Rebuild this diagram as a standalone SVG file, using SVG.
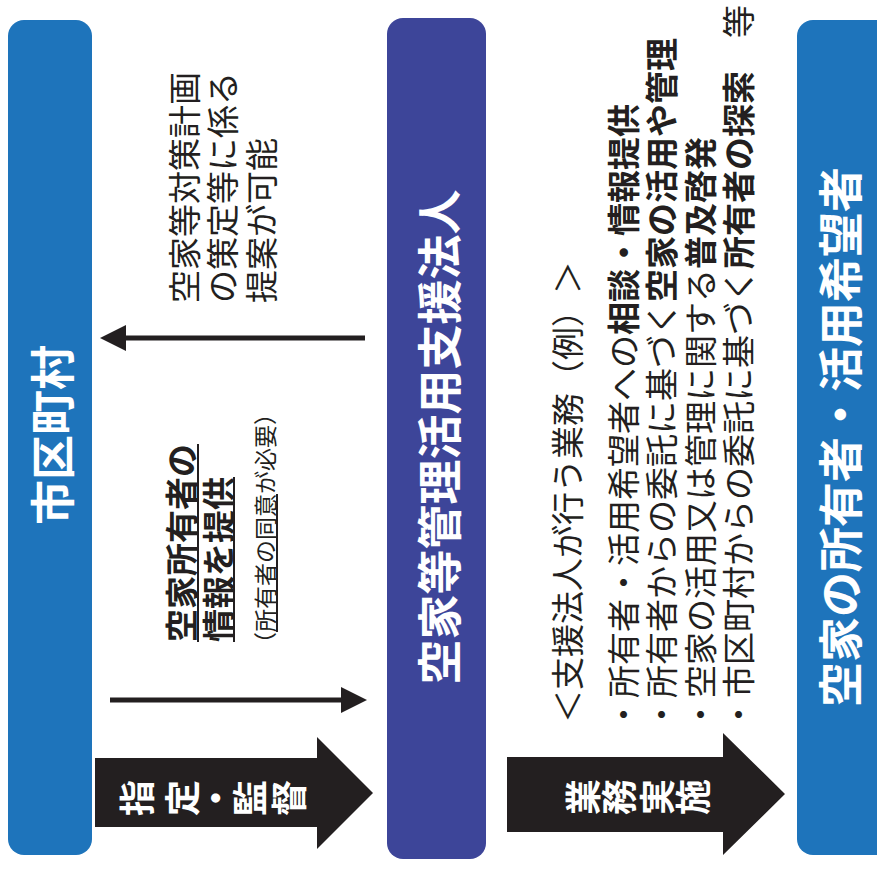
<svg xmlns="http://www.w3.org/2000/svg" width="877" height="872" viewBox="0 0 877 872">
<defs>
<style>
text{font-family:"Noto Sans CJK JP","Noto Sans",sans-serif;}
.box-blue{fill:#1e74bb;}
.box-navy{fill:#3d4599;}
.lbl{fill:#fff;font-weight:700;font-size:45px;text-anchor:middle;dominant-baseline:central;}
.arr{fill:#231f20;}
.atx{fill:#fff;font-weight:700;font-size:36px;text-anchor:middle;dominant-baseline:central;}
.t{fill:#231f20;font-size:33px;dominant-baseline:central;}
.tb{font-weight:700;}
.sm{fill:#231f20;font-size:23px;dominant-baseline:central;}
.ul{stroke:#231f20;stroke-width:2;}
.conn{stroke:#231f20;stroke-width:5;fill:none;}
</style>
</defs>
<rect width="877" height="872" fill="#fff"/>

<g id="node-municipality">
<rect class="box-blue" x="8" y="20" width="84" height="835" rx="16"/>
<text class="lbl" transform="translate(50,435) rotate(-90)">市区町村</text>
</g>

<g id="node-support-corp">
<rect class="box-navy" x="387" y="18" width="99" height="841" rx="16"/>
<text class="lbl" transform="translate(437,437) rotate(-90)">空家等管理活用支援法人</text>
</g>

<g id="node-owners">
<rect class="box-blue" x="797" y="20" width="100" height="835" rx="16"/>
<text class="lbl" transform="translate(838,437) rotate(-90)">空家の所有者・活用希望者</text>
</g>

<g id="connectors">
<line class="conn" x1="365" y1="338" x2="120" y2="338"/>
<polygon class="arr" points="100,338 126,325 126,351"/>
<line class="conn" x1="110" y1="700" x2="346" y2="700"/>
<polygon class="arr" points="367,700 341,687 341,713"/>
</g>

<g id="arrow-designate">
<polygon class="arr" points="95,758 317,758 317,737 373,793 317,849 317,827 95,827"/>
<text class="atx" transform="translate(135,798) rotate(-90)">指</text>
<text class="atx" transform="translate(180,798) rotate(-90)">定</text>
<text class="atx" transform="translate(214,798) rotate(-90)">・</text>
<text class="atx" transform="translate(248,798) rotate(-90)">監</text>
<text class="atx" transform="translate(287,798) rotate(-90)">督</text>
</g>

<g id="arrow-business">
<polygon class="arr" points="507,757 723,757 723,733 785,794 723,855 723,832 507,832"/>
<text class="atx" transform="translate(581,797) rotate(-90)">業</text>
<text class="atx" transform="translate(617,797) rotate(-90)">務</text>
<text class="atx" transform="translate(655,797) rotate(-90)">実</text>
<text class="atx" transform="translate(691,797) rotate(-90)">施</text>
</g>

<g id="label-proposal">
<text class="t" transform="translate(183,303) rotate(-90)">空家等対策計画</text>
<text class="t" transform="translate(221,303) rotate(-90)">の策定等に係る</text>
<text class="t" transform="translate(260,303) rotate(-90)">提案が可能</text>
</g>

<g id="label-info">
<text class="t tb" transform="translate(180,642) rotate(-90)">空家所有者の</text>
<line class="ul" x1="198" y1="642" x2="198" y2="444"/>
<text class="t tb" transform="translate(217,642) rotate(-90)">情報を提供</text>
<line class="ul" x1="234" y1="642" x2="234" y2="477"/>
<text class="sm" transform="translate(264,655) rotate(-90)">（所有者の同意が必要）</text>
<line class="ul" x1="277" y1="632" x2="277" y2="494"/>
</g>

<g id="label-tasks">
<text class="t" transform="translate(566,723) rotate(-90)">＜支援法人が行う業務（例）＞</text>
<text class="t" transform="translate(622,731) rotate(-90)">・所有者・活用希望者への<tspan class="tb">相談・情報提供</tspan></text>
<text class="t" transform="translate(660,731) rotate(-90)">・所有者からの委託に基づく<tspan class="tb">空家の活用や管理</tspan></text>
<text class="t" transform="translate(699,731) rotate(-90)">・空家の活用又は管理に関する<tspan class="tb">普及啓発</tspan></text>
<text class="t" transform="translate(737,731) rotate(-90)">・市区町村からの委託に基づく<tspan class="tb">所有者の探索</tspan>　等</text>
</g>
</svg>
